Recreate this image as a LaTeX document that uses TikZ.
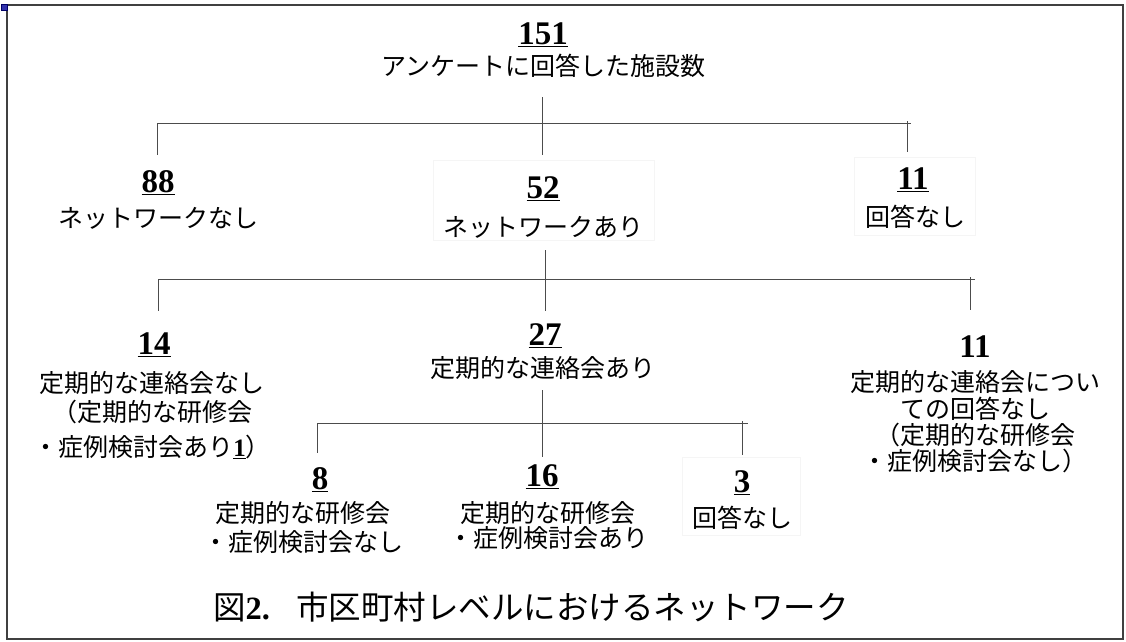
\documentclass[tikz,border=0pt]{standalone}
\usepackage{fontspec}
\setmainfont{Liberation Serif}
\newfontfamily\cjk{Noto Sans CJK JP}
\newcommand\ulnum[1]{\underline{\rmfamily\bfseries #1}}
\begin{document}
\begin{tikzpicture}[x=1pt,y=-1pt,
  num/.style={font=\fontsize{33}{35}\selectfont, inner sep=0pt},
  lab/.style={font=\cjk\fontsize{25}{26}\selectfont, inner sep=0pt, align=center},
  conn/.style={draw=black!70, line width=0.9pt},
  faint/.style={draw=black!4, line width=0.8pt},
  frame/.style={draw=black!75, line width=1.5pt}]
\useasboundingbox (0,0) rectangle (1126,641);
% frame and handle
\draw[frame] (7,5) rectangle (1123,639);
\filldraw[fill=blue!60!black!80, draw=blue!40!black, line width=0.5pt] (1,4) rectangle (7,10);
% faint boxes
\draw[faint] (433,160) rectangle (654,240);
\draw[faint] (854,157) rectangle (975,235);
\draw[faint] (682,457) rectangle (800,535);
% level 0
\node[num] (n151) at (543,35) {\ulnum{151}};
\node[lab] (l151) at (543,66) {アンケートに回答した施設数};
% level 1
\node[num] (n88) at (158,183) {\ulnum{88}};
\node[lab] (l88) at (158,218) {ネットワークなし};
\node[num] (n52) at (543,189) {\ulnum{52}};
\node[lab] (l52) at (543,227) {ネットワークあり};
\node[num] (n11a) at (913,180) {\ulnum{11}};
\node[lab] (l11a) at (915,217) {回答なし};
% level 2
\node[num] (n14) at (154,345) {\ulnum{14}};
\node[lab] (l14) at (152,415) {定期的な連絡会なし\\[3pt]（定期的な研修会\\[9pt]・症例検討会あり\ulnum{1}）};
\node[num] (n27) at (545,336) {\ulnum{27}};
\node[lab] (l27) at (543,368) {定期的な連絡会あり};
\node[num] (n11b) at (975,347) {\rmfamily\bfseries 11};
\node[lab, font=\cjk\fontsize{25}{26.3}\selectfont] (l11b) at (975,422) {定期的な連絡会につい\\ての回答なし\\（定期的な研修会\\・症例検討会なし）};
% level 3
\node[num] (n8) at (320,480) {\ulnum{8}};
\node[lab] (l8) at (303,527) {定期的な研修会\\[3pt]・症例検討会なし};
\node[num] (n16) at (542,477) {\ulnum{16}};
\node[lab] (l16) at (548,525) {定期的な研修会\\[-1pt]・症例検討会あり};
\node[num] (n3) at (742,483) {\ulnum{3}};
\node[lab] (l3) at (742,518) {回答なし};
% caption
\node[inner sep=0pt, anchor=west, font=\fontsize{32.5}{35}\selectfont] (cap) at (213,607)
  {{\cjk 図}{\rmfamily\bfseries 2.}\hspace{26pt}{\cjk 市区町村レベルにおけるネットワーク}};
% connectors level 0 -> 1
\coordinate (a0) at (542,97);
\coordinate (a2) at (542,155);
\coordinate (aL) at (157,123);
\coordinate (aLd) at (157,155);
\coordinate (aR) at (911,123);
\coordinate (aRt) at (907,121);
\coordinate (aRd) at (907,152);
\draw[conn] (a0) -- (a2);
\draw[conn] (aL) -- (aR);
\draw[conn] (aL) -- (aLd);
\draw[conn] (aRt) -- (aRd);
% connectors level 1 -> 2
\coordinate (b0) at (545,250);
\coordinate (b2) at (545,311);
\coordinate (bL) at (158,279);
\coordinate (bLd) at (158,311);
\coordinate (bR) at (975,279);
\coordinate (bRt) at (970,277);
\coordinate (bRd) at (970,310);
\draw[conn] (b0) -- (b2);
\draw[conn] (bL) -- (bR);
\draw[conn] (bL) -- (bLd);
\draw[conn] (bRt) -- (bRd);
% connectors level 2 -> 3
\coordinate (c0) at (542,390);
\coordinate (c2) at (542,457);
\coordinate (cL) at (317,423);
\coordinate (cLd) at (317,453);
\coordinate (cR) at (748,423);
\coordinate (cRt) at (742,421);
\coordinate (cRd) at (742,455);
\draw[conn] (c0) -- (c2);
\draw[conn] (cL) -- (cR);
\draw[conn] (cL) -- (cLd);
\draw[conn] (cRt) -- (cRd);
\end{tikzpicture}
\end{document}
